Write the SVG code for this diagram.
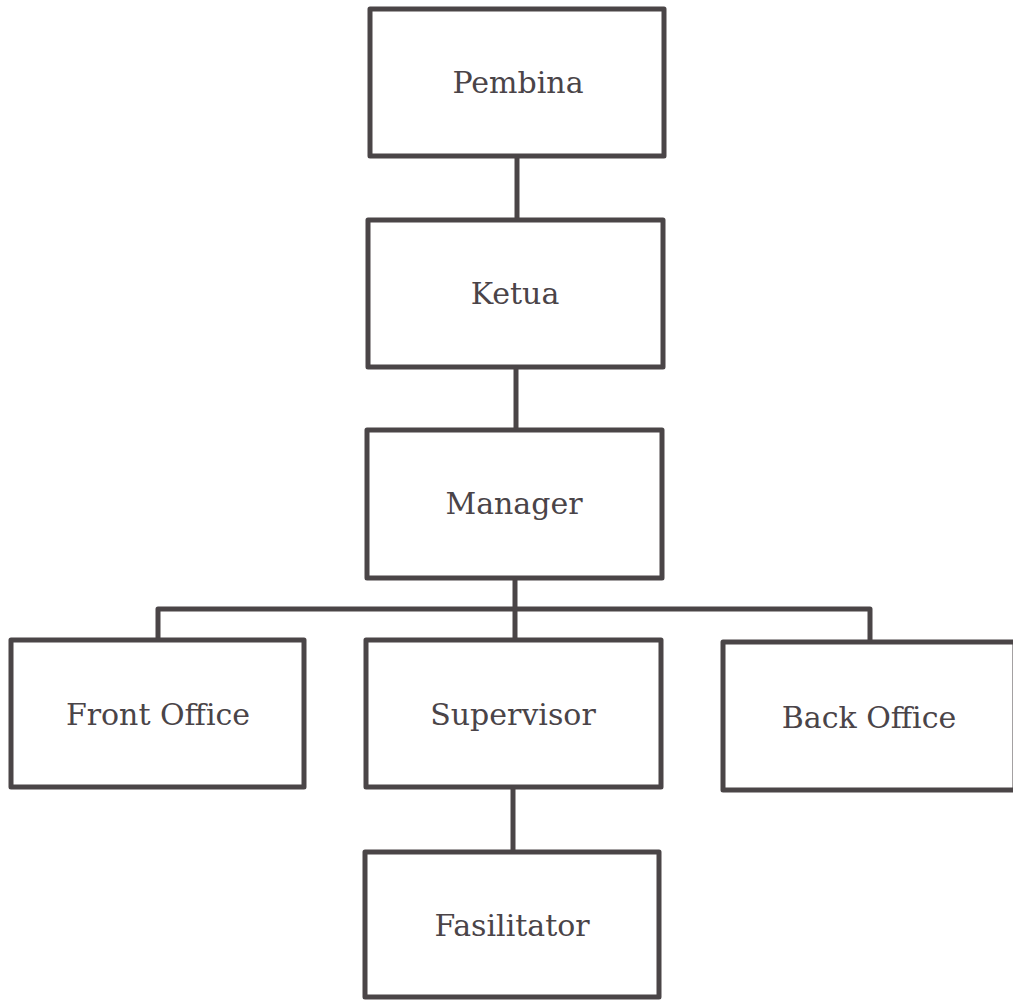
<svg xmlns="http://www.w3.org/2000/svg" width="1013" height="1000" viewBox="0 0 1013 1000">
<style>
.box{fill:#fff;stroke:#4a4547;stroke-width:5;stroke-linejoin:round}
.lbl{font-family:"DejaVu Serif","Liberation Serif",serif;font-size:30px;fill:#4a4448;text-anchor:middle}
.con{fill:none;stroke:#4a4547;stroke-width:5;stroke-linejoin:round}
</style>
<rect width="1013" height="1000" fill="#fff"/>
<g id="connectors">
<line class="con" x1="517" y1="156" x2="517" y2="220"/>
<line class="con" x1="516" y1="367" x2="516" y2="430"/>
<line class="con" x1="515" y1="578" x2="515" y2="640"/>
<path class="con" d="M158 640 V609 H870 V642"/>
<line class="con" x1="513" y1="787" x2="513" y2="852"/>
</g>
<g id="pembina"><rect class="box" x="370" y="9" width="294" height="147"/><text class="lbl" x="518" y="93">Pembina</text></g>
<g id="ketua"><rect class="box" x="368" y="220" width="295" height="147"/><text class="lbl" x="515" y="304">Ketua</text></g>
<g id="manager"><rect class="box" x="367" y="430" width="295" height="148"/><text class="lbl" x="514" y="514">Manager</text></g>
<g id="front-office"><rect class="box" x="11" y="640" width="293" height="147"/><text class="lbl" x="158" y="725">Front Office</text></g>
<g id="supervisor"><rect class="box" x="366" y="640" width="295" height="147"/><text class="lbl" x="513" y="725">Supervisor</text></g>
<g id="back-office"><rect class="box" x="723" y="642" width="292" height="148"/><text class="lbl" x="869" y="728">Back Office</text></g>
<g id="fasilitator"><rect class="box" x="365" y="852" width="294" height="145"/><text class="lbl" x="512" y="936">Fasilitator</text></g>
</svg>
